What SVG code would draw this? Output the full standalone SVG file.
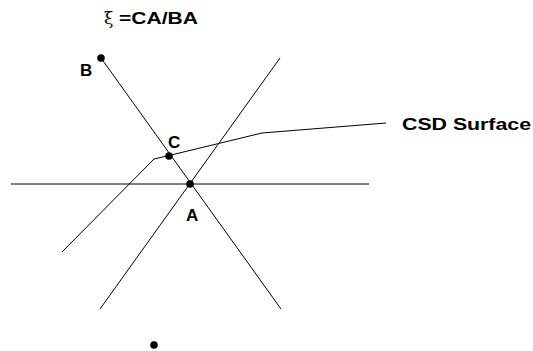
<svg xmlns="http://www.w3.org/2000/svg" width="533" height="351" viewBox="0 0 533 351">
<style>
.ln{stroke:#000;stroke-width:1;fill:none}
.lb{font-family:"Liberation Sans",Arial,sans-serif;font-weight:bold;font-size:17px;fill:#000}
.dot{fill:#000}
</style>
<rect width="533" height="351" fill="#fff"/>
<g id="connectors">
<line class="ln" x1="11" y1="184" x2="369" y2="184"/>
<line class="ln" x1="101" y1="58" x2="281" y2="309"/>
<line class="ln" x1="100" y1="309" x2="280" y2="58"/>
<polyline class="ln" points="62,252 154,159 169,155.5 262,133 386,123"/>
</g>
<g id="formula">
<text x="104" y="24" font-family="'DejaVu Serif',serif" font-size="17">ξ</text>
<text class="lb" x="119" y="24" textLength="79" lengthAdjust="spacingAndGlyphs">=CA/BA</text>
</g>
<g id="B"><circle class="dot" cx="101" cy="58" r="3.8"/><text class="lb" x="80" y="76">B</text></g>
<g id="C"><circle class="dot" cx="169" cy="156" r="3.8"/><text class="lb" x="168" y="148">C</text></g>
<g id="A"><circle class="dot" cx="190" cy="184" r="3.8"/><text class="lb" x="186" y="221">A</text></g>
<g id="CSD"><text class="lb" x="402" y="130" textLength="129" lengthAdjust="spacingAndGlyphs">CSD Surface</text></g>
<g id="P"><circle class="dot" cx="154" cy="345" r="3.8"/></g>
</svg>
